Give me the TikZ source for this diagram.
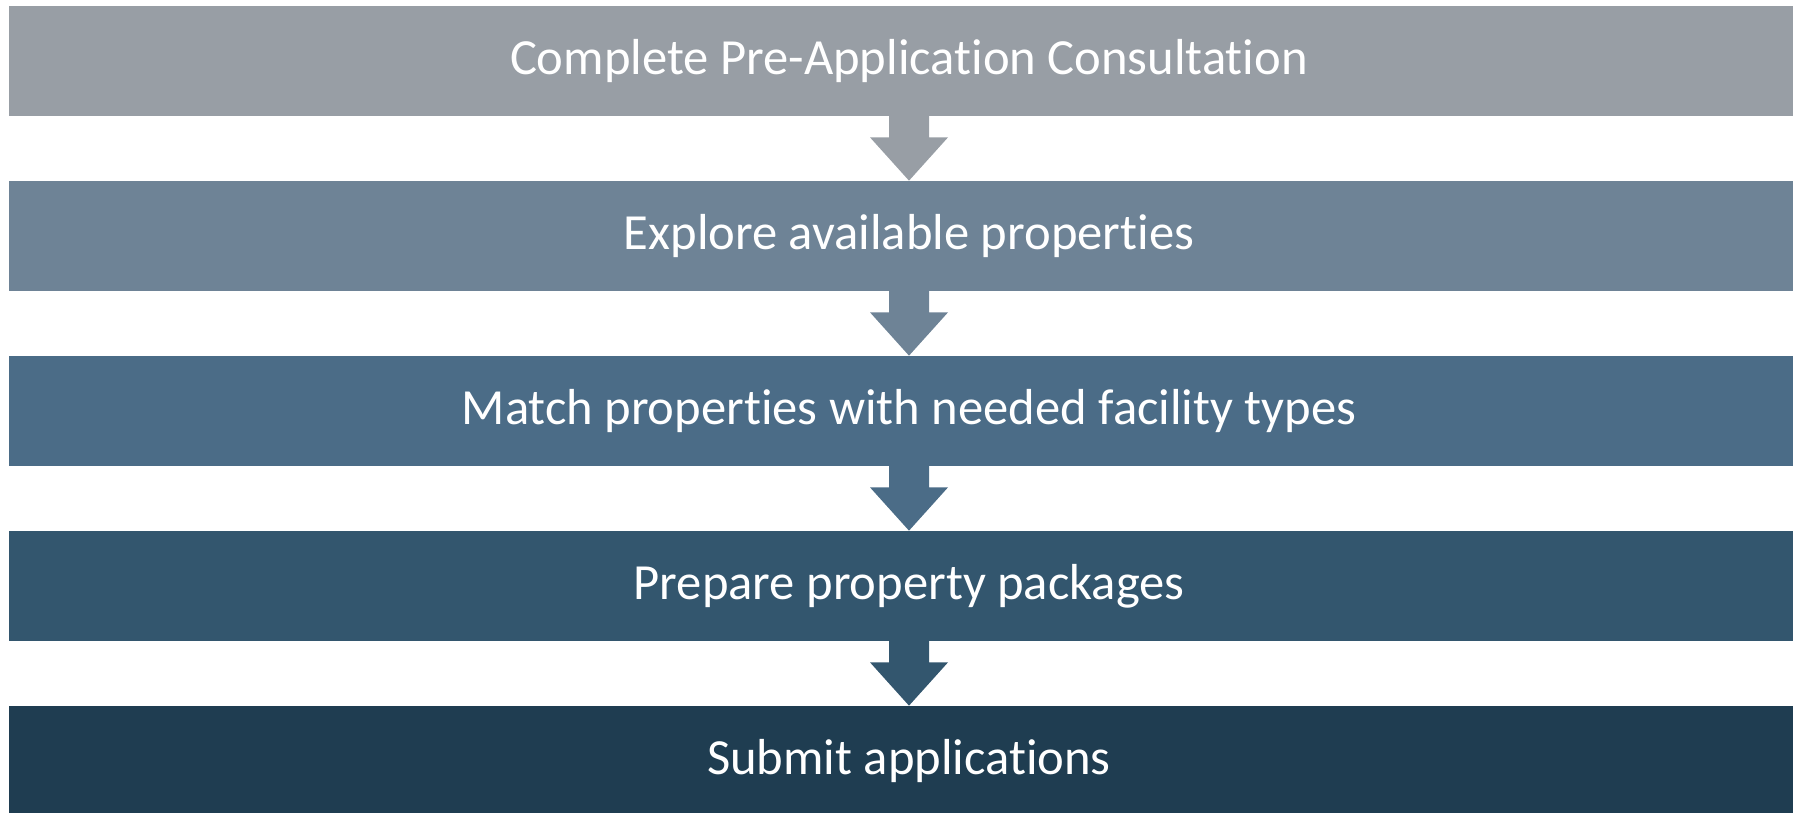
\documentclass[tikz,border=0pt]{standalone}
\usepackage{fontspec}
\setmainfont[Ligatures=CommonOff]{Carlito}
\usetikzlibrary{calc}
\definecolor{boxA}{RGB}{152,158,165}
\definecolor{boxB}{RGB}{110,131,150}
\definecolor{boxC}{RGB}{75,108,135}
\definecolor{boxD}{RGB}{51,86,110}
\definecolor{boxE}{RGB}{31,61,81}
\newcommand{\downarrowbetween}[3]{%
	\fill[#3] ($(#1.south)+(-0.4,0.02)$) -- ++(0,-0.44) -- ++(-0.38,0) -- (#2.north)
		-- ($(#1.south)+(0.78,-0.42)$) -- ++(-0.38,0) -- ($(#1.south)+(0.4,0.02)$) -- cycle;}
\begin{document}
\begin{tikzpicture}
					\clip (0,0) rectangle (35.86,-16.24);
					\useasboundingbox (0,0) rectangle (35.86,-16.24);
					\tikzstyle{stepbox}=[minimum width=36cm, minimum height=2.2cm, inner sep=0pt, text=white, font=\fontsize{28.8}{34}\selectfont];
					\path (18.18,-1.22) node[stepbox, fill=boxA] (v0) {Complete Pre-Application Consultation};
					\path (18.18,-4.72) node[stepbox, fill=boxB] (v1) {Explore available properties};
					\path (18.18,-8.22) node[stepbox, fill=boxC] (v2) {Match properties with needed facility types};
					\path (18.18,-11.72) node[stepbox, fill=boxD] (v3) {Prepare property packages};
					\path (18.18,-15.22) node[stepbox, fill=boxE] (v4) {Submit applications};
					\downarrowbetween{v0}{v1}{boxA}
					\downarrowbetween{v1}{v2}{boxB}
					\downarrowbetween{v2}{v3}{boxC}
					\downarrowbetween{v3}{v4}{boxD}
					\end{tikzpicture}
\end{document}
